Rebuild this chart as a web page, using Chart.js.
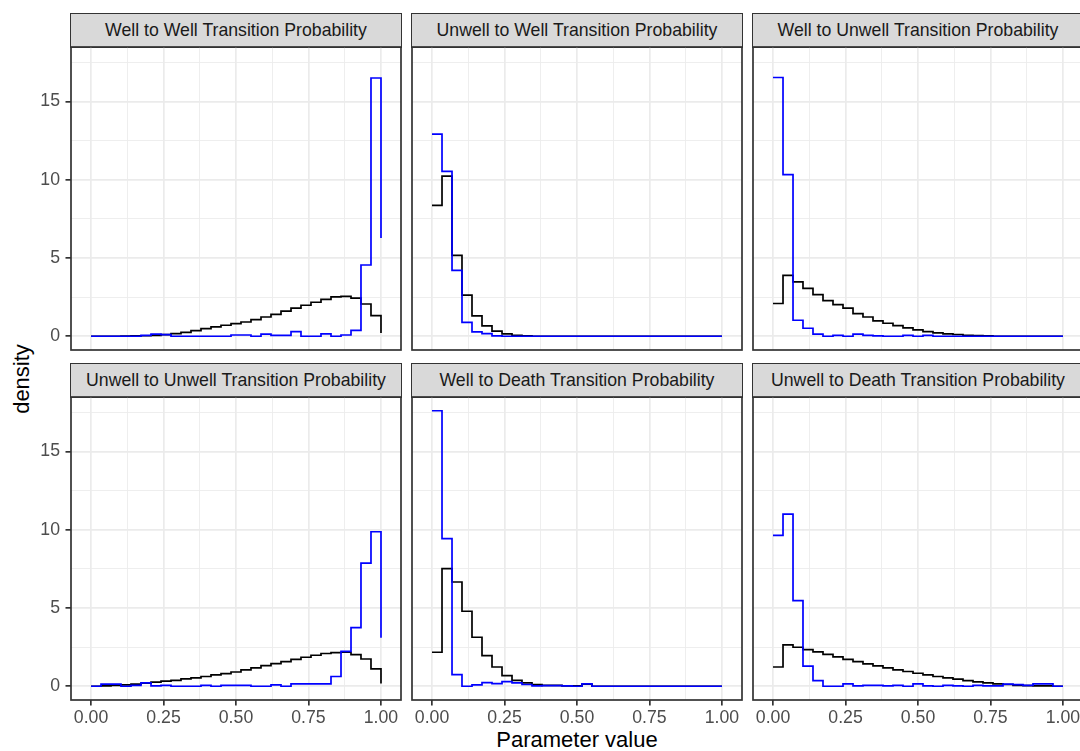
<!DOCTYPE html>
<html>
<head>
<meta charset="utf-8">
<script src="https://cdn.jsdelivr.net/npm/chart.js@4.4.1/dist/chart.umd.min.js"></script>
<style>
  body { margin: 0; width: 1080px; height: 751px; overflow: hidden; background: #fff; position: relative;
         font-family: 'Liberation Sans', Arial, sans-serif; }
  canvas { position: absolute; }
  .strip { position: absolute; box-sizing: border-box; background: #d9d9d9; border: 1.7px solid #333;
           color: #1a1a1a; font-size: 17.7px; display: flex; align-items: center; justify-content: center;
           white-space: nowrap; }
  .axis-title { position: absolute; color: #000; font-size: 22px; white-space: nowrap; line-height: 1; }
</style>
</head>
<body>
<div class="axis-title" style="left:22px; top:379px; transform: translate(-50%, -50%) rotate(-90deg);">density</div>
<div class="axis-title" style="left:577px; top:740px; transform: translate(-50%, -50%);">Parameter value</div>
<script>
// bin centres, 30 bins over [0, 1]
const binCentres = [0, 0.0345, 0.0690, 0.1034, 0.1379, 0.1724, 0.2069, 0.2414, 0.2759, 0.3103,
  0.3448, 0.3793, 0.4138, 0.4483, 0.4828, 0.5172, 0.5517, 0.5862, 0.6207, 0.6552,
  0.6897, 0.7241, 0.7586, 0.7931, 0.8276, 0.8621, 0.8966, 0.9310, 0.9655, 1];

// densities (black / blue step lines)
const wellToWellBlack = [0, 0, 0, 0.01, 0.02, 0.03, 0.05, 0.1, 0.17, 0.25, 0.36, 0.49, 0.6, 0.7, 0.8,
  0.91, 1.06, 1.23, 1.4, 1.6, 1.79, 1.98, 2.17, 2.36, 2.51, 2.55, 2.43, 2.06, 1.32, 0.2];
const wellToWellBlue = [0, 0, 0, 0, 0, 0.05, 0.13, 0.1, 0, 0, 0, 0, 0, 0, 0.08,
  0.08, 0, 0.13, 0.06, 0.06, 0.3, 0, 0, 0.15, 0, 0.08, 0.38, 4.55, 16.5, 6.28];

const unwellToWellBlack = [8.36, 10.23, 5.17, 2.62, 1.3, 0.66, 0.32, 0.15, 0.06, 0.02, 0, 0, 0, 0, 0,
  0, 0, 0, 0, 0, 0, 0, 0, 0, 0, 0, 0, 0, 0, 0];
const unwellToWellBlue = [12.91, 10.53, 4.21, 0.89, 0.28, 0.17, 0.02, 0, 0, 0, 0, 0, 0, 0, 0,
  0, 0, 0, 0, 0, 0, 0, 0, 0, 0, 0, 0, 0, 0, 0];

const wellToUnwellBlack = [2.09, 3.89, 3.47, 3.06, 2.66, 2.28, 2.02, 1.79, 1.45, 1.23, 0.98, 0.83, 0.68, 0.53, 0.4,
  0.3, 0.21, 0.15, 0.11, 0.06, 0.04, 0.02, 0, 0, 0, 0, 0, 0, 0, 0];
const wellToUnwellBlue = [16.53, 10.32, 1.02, 0.51, 0.13, 0, 0.06, 0, 0.13, 0.06, 0.02, 0, 0, 0.06, 0,
  0.06, 0, 0, 0, 0, 0, 0, 0, 0, 0, 0, 0, 0, 0, 0];

const unwellToUnwellBlack = [0, 0.02, 0.06, 0.09, 0.13, 0.19, 0.26, 0.32, 0.38, 0.47, 0.53, 0.62, 0.72, 0.81, 0.91,
  1.04, 1.17, 1.32, 1.45, 1.57, 1.72, 1.85, 1.98, 2.09, 2.15, 2.17, 2.02, 1.74, 1.11, 0.17];
const unwellToUnwellBlue = [0, 0.13, 0.13, 0, 0.06, 0.21, 0.02, 0.06, 0, 0, 0, 0.06, 0, 0.06, 0.06,
  0.06, 0, 0, 0.09, 0, 0.15, 0.15, 0.15, 0.15, 0.62, 2.23, 3.74, 7.87, 9.87, 3.09];

const wellToDeathBlack = [2.17, 7.51, 6.66, 4.79, 3.13, 1.96, 1.23, 0.68, 0.38, 0.21, 0.11, 0.06, 0.06, 0.02, 0.02,
  0.13, 0, 0, 0, 0, 0, 0, 0, 0, 0, 0, 0, 0, 0, 0];
const wellToDeathBlue = [17.6, 9.43, 0.74, 0, 0.09, 0.23, 0.17, 0.3, 0.21, 0.11, 0.02, 0.04, 0.04, 0.02, 0,
  0.15, 0, 0, 0, 0, 0, 0, 0, 0, 0, 0, 0, 0, 0, 0];

const unwellToDeathBlack = [1.23, 2.64, 2.49, 2.34, 2.19, 2.04, 1.87, 1.72, 1.57, 1.43, 1.3, 1.17, 1.04, 0.94, 0.83,
  0.72, 0.62, 0.53, 0.45, 0.36, 0.28, 0.21, 0.15, 0.11, 0.06, 0.04, 0.02, 0.02, 0, 0];
const unwellToDeathBlue = [9.64, 11.0, 5.47, 1.28, 0.36, 0, 0, 0.15, 0.02, 0.06, 0.06, 0.02, 0.06, 0, 0.15,
  0.02, 0, 0.06, 0.02, 0, 0.06, 0.02, 0.02, 0.13, 0.1, 0.06, 0.15, 0.15, 0, 0];

// ticks
const xMajor = [0, 0.25, 0.5, 0.75, 1];
const xMinor = [0.125, 0.375, 0.625, 0.875];
const yMajor = [0, 5, 10, 15];
const yMinor = [2.5, 7.5, 12.5, 17.5];

const panels = [
  { title: 'Well to Well Transition Probability', black: wellToWellBlack, blue: wellToWellBlue },
  { title: 'Unwell to Well Transition Probability', black: unwellToWellBlack, blue: unwellToWellBlue },
  { title: 'Well to Unwell Transition Probability', black: wellToUnwellBlack, blue: wellToUnwellBlue },
  { title: 'Unwell to Unwell Transition Probability', black: unwellToUnwellBlack, blue: unwellToUnwellBlue },
  { title: 'Well to Death Transition Probability', black: wellToDeathBlack, blue: wellToDeathBlue },
  { title: 'Unwell to Death Transition Probability', black: unwellToDeathBlack, blue: unwellToDeathBlue },
];

// layout, px
const plotW = 330, plotH = 303;
const colLeft = [71, 412, 753];
const rowTop = [47, 397];
const stripH = 34;
const yAxisW = 69, xAxisH = 36, pad = 2;
const font = { family: "'Liberation Sans', Arial, sans-serif", size: 17.7 };

// ggplot style frame round each panel
const panelBorder = {
  id: 'panelBorder',
  afterDatasetsDraw(chart) {
    const a = chart.chartArea, ctx = chart.ctx;
    ctx.save();
    ctx.strokeStyle = '#333333';
    ctx.lineWidth = 1.7;
    ctx.strokeRect(a.left, a.top, a.right - a.left, a.bottom - a.top);
    ctx.restore();
  }
};

function grid(major, showTicks) {
  return {
    color: '#ebebeb',
    lineWidth: c => major.includes(c.tick.value) ? 1.7 : 0.85,
    drawTicks: showTicks,
    tickLength: 5.5,
    tickWidth: 1.7,
    tickColor: c => major.includes(c.tick.value) ? '#333333' : 'rgba(0,0,0,0)',
  };
}

// keep every panel the same size: no label overhang padding
function fixSize(s, w, h) {
  if (w !== null) s.width = w;
  if (h !== null) s.height = h;
  s.paddingTop = 0; s.paddingBottom = 0; s.paddingLeft = 0; s.paddingRight = 0;
}

function toPoints(values) {
  return binCentres.map((x, i) => ({ x: x, y: values[i] }));
}

panels.forEach((p, i) => {
  const col = i % 3, row = Math.floor(i / 3);
  const showY = col === 0, showX = row === 1;
  const w = pad + (showY ? yAxisW : 0) + plotW + pad;
  const h = pad + plotH + (showX ? xAxisH : 0) + pad;

  const strip = document.createElement('div');
  strip.className = 'strip';
  strip.textContent = p.title;
  strip.style.left = (colLeft[col] - 0.85) + 'px';
  strip.style.top = (rowTop[row] - stripH) + 'px';
  strip.style.width = (plotW + 1.7) + 'px';
  strip.style.height = (stripH + 0.85) + 'px';
  document.body.appendChild(strip);

  const canvas = document.createElement('canvas');
  canvas.width = w;
  canvas.height = h;
  canvas.style.left = (colLeft[col] - pad - (showY ? yAxisW : 0)) + 'px';
  canvas.style.top = (rowTop[row] - pad) + 'px';
  document.body.appendChild(canvas);

  new Chart(canvas.getContext('2d'), {
    type: 'line',
    data: {
      datasets: [
        { label: 'blue', data: toPoints(p.blue), borderColor: '#0000ff', borderWidth: 1.7,
          pointRadius: 0, stepped: true, fill: false },
        { label: 'black', data: toPoints(p.black), borderColor: '#000000', borderWidth: 1.7,
          pointRadius: 0, stepped: true, fill: false },
      ]
    },
    options: {
      responsive: false,
      devicePixelRatio: 1,
      animation: false,
      layout: { padding: pad },
      plugins: { legend: { display: false }, tooltip: { enabled: false }, title: { display: false } },
      scales: {
        x: {
          type: 'linear',
          bounds: 'data',
          min: -0.069,
          max: 1.069,
          border: { display: false },
          grid: grid(xMajor, showX),
          afterBuildTicks: s => { s.ticks = xMajor.concat(xMinor).sort((a, b) => a - b).map(v => ({ value: v })); },
          afterFit: s => fixSize(s, null, showX ? xAxisH : 0),
          ticks: {
            display: showX,
            autoSkip: false,
            maxRotation: 0,
            padding: 2,
            color: '#4d4d4d',
            font: font,
            callback: v => xMajor.includes(v) ? v.toFixed(2) : '',
          },
        },
        y: {
          type: 'linear',
          bounds: 'data',
          min: -0.88,
          max: 18.48,
          border: { display: false },
          grid: grid(yMajor, showY),
          afterBuildTicks: s => { s.ticks = yMajor.concat(yMinor).sort((a, b) => a - b).map(v => ({ value: v })); },
          afterFit: s => fixSize(s, showY ? yAxisW : 0, null),
          ticks: {
            display: showY,
            autoSkip: false,
            padding: 5.5,
            color: '#4d4d4d',
            font: font,
            callback: v => yMajor.includes(v) ? String(v) : '',
          },
        },
      },
    },
    plugins: [panelBorder],
  });
});
</script>
</body>
</html>
